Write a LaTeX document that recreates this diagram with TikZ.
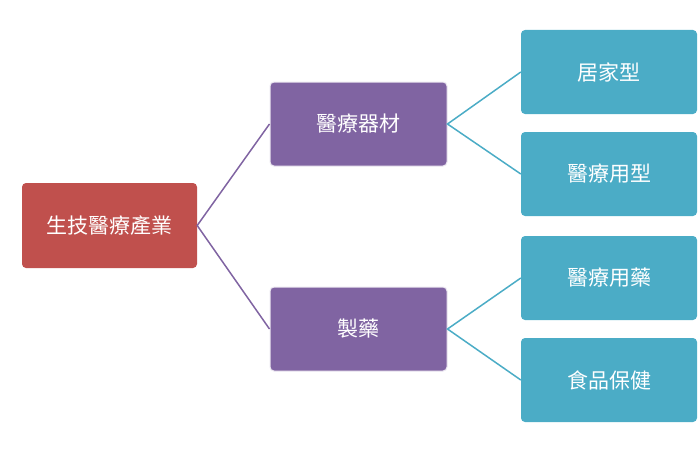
\documentclass[tikz,border=0pt]{standalone}
\usepackage{fontspec}
\newfontfamily\cjk{Noto Sans CJK TC}
\usetikzlibrary{positioning}
\definecolor{rootred}{HTML}{C0504D}
\definecolor{midpurple}{HTML}{8064A2}
\definecolor{leafteal}{HTML}{4BACC6}
\begin{document}
\begin{tikzpicture}[x=1pt,y=-1pt,
		box node/.style={rounded corners=4pt,inner sep=0pt,text=white,font=\cjk\fontsize{21}{24}\selectfont},
		root node/.style={box node,fill=rootred,minimum width=175pt,minimum height=85pt},
		mid node/.style={box node,fill=midpurple,draw=white!85!midpurple,line width=1pt,minimum width=177pt,minimum height=84pt},
		leaf node/.style={box node,fill=leafteal,minimum width=176pt,minimum height=84pt}]
	\useasboundingbox (0,0) rectangle (700,452);
	\node[root node] (root) at (109.5,225.5) {生技醫療產業};
	\node[mid node] (equip) at (358.5,124) {醫療器材};
	\node[mid node] (pharma) at (358.5,329) {製藥};
	\node[leaf node] (home) at (609,72) {居家型};
	\node[leaf node] (medtype) at (609,174) {醫療用型};
	\node[leaf node] (meddrug) at (609,278) {醫療用藥};
	\node[leaf node] (food) at (609,380) {食品保健};
	%
	% Lines from the root to the two groups.
	\draw[midpurple,line width=1.5pt] (equip.west) -- (root.east) -- (pharma.west);
	%
	% Lines from each group to its items.
	\draw[leafteal,line width=1.5pt] (home.west) -- (equip.east) -- (medtype.west);
	\draw[leafteal,line width=1.5pt] (meddrug.west) -- (pharma.east) -- (food.west);
\end{tikzpicture}
\end{document}
